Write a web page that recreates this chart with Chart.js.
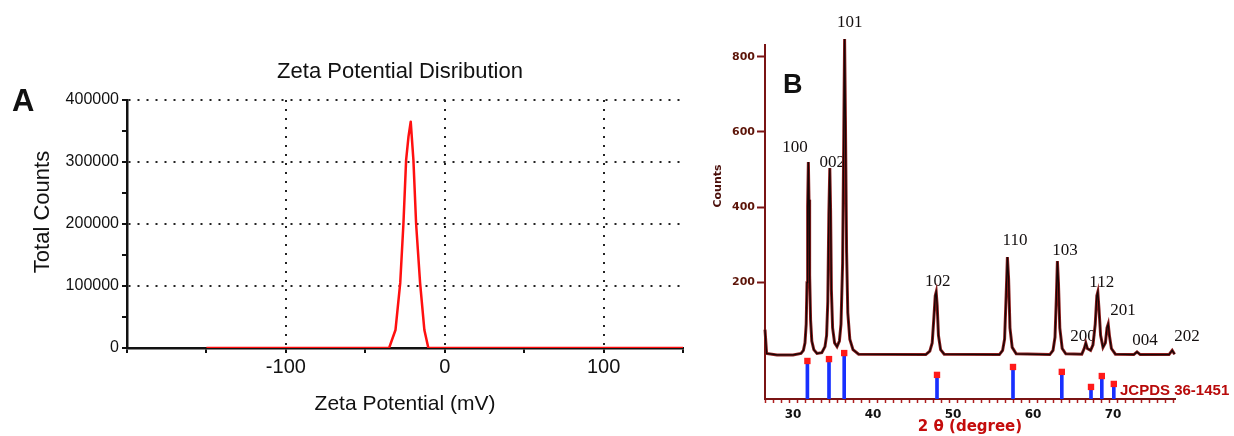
<!DOCTYPE html>
<html>
<head>
<meta charset="utf-8">
<script src="https://cdn.jsdelivr.net/npm/chart.js@4.4.1/dist/chart.umd.min.js"></script>
<style>
	html, body { margin: 0; padding: 0; background: #fff; }
	#wrap { position: relative; width: 1234px; height: 436px; overflow: hidden; }
	#zetaChart { position: absolute; left: 0; top: 0; }
	#xrdChart { position: absolute; left: 690px; top: 0; }
</style>
</head>
<body>
<div id="wrap">
	<canvas id="zetaChart" width="690" height="436"></canvas>
	<canvas id="xrdChart" width="544" height="436"></canvas>
</div>
<script>
// panel A - zeta potential distribution
const zetaPotential = [-150, -35, -31, -28, -26, -24.3, -22.8, -21.4, -19.7, -18, -15.5, -12.8, -10.3, 150];
const zetaCounts = [0, 0, 29000, 105000, 200000, 303000, 341000, 365000, 303000, 200000, 105000, 29000, 0, 0];
const zetaTickLabels = [-100, 0, 100];

// panel B - XRD pattern
const xrdAngle = [26.5, 26.7, 28, 30, 31, 31.3, 31.5, 31.65, 31.75, 31.83, 31.92, 32, 32.08, 32.2, 32.35, 32.6, 33,
	33.6, 34, 34.2, 34.35, 34.48, 34.6, 34.7, 34.8, 34.95, 35.2, 35.5, 35.8, 36, 36.2, 36.35, 36.45, 36.55, 36.7, 36.85, 37.1, 37.5, 38.2,
	46.6, 47.1, 47.4, 47.62, 47.78, 47.9, 48.02, 48.18, 48.45, 48.9,
	55.8, 56.2, 56.45, 56.65, 56.8, 56.95, 57.12, 57.4, 57.9,
	62.1, 62.5, 62.75, 62.92, 63.05, 63.18, 63.35, 63.65, 64.1,
	66.1, 66.4, 66.6, 66.8, 67.2, 67.5, 67.78, 67.98, 68.1, 68.25, 68.45,
	68.75, 69.05, 69.25, 69.4, 69.55, 69.8, 70.3,
	72.6, 73, 73.4, 77, 77.4, 77.7];
const xrdCounts = [75, 12, 8, 8, 12, 20, 40, 90, 200, 400, 520, 420, 220, 100, 45, 22, 12,
	14, 30, 60, 150, 380, 504, 390, 180, 80, 40, 30, 45, 90, 250, 600, 847, 640, 280, 120, 50, 22, 10,
	9, 18, 40, 110, 165, 175, 140, 60, 22, 10,
	9, 20, 50, 170, 268, 210, 80, 28, 11,
	9, 20, 55, 160, 257, 200, 80, 25, 11,
	10, 25, 40, 25, 20, 35, 90, 165, 175, 130, 60,
	28, 40, 80, 90, 60, 25, 10,
	9, 16, 9, 9, 20, 10];

const peakLabels = ['100', '002', '101', '102', '110', '103', '200', '112', '201', '004', '202'];
const peakLabelAngle = [30.25, 34.9, 37.1, 48.1, 57.75, 64.0, 66.25, 68.6, 71.25, 74.0, 79.25];
const peakLabelCounts = [560, 520, 890, 202, 313, 284, 56, 199, 127, 45, 56];

// JCPDS 36-1451 reference lines
const jcpdsAngle = [31.8, 34.5, 36.4, 48.0, 57.5, 63.6, 67.25, 68.6, 70.1];
const jcpdsTop = [-8, -3, 13, -45, -24, -37, -77, -48, -69];
const xrdTicks = [200, 400, 600, 800];
const xrdAxisMin = -109;
const xrdAxisMax = 831;

const panelText = {
	id: 'panelText',
	afterDraw(chart, args, opts) {
		const ctx = chart.ctx;
		(opts.items || []).forEach((item) => {
			ctx.save();
			ctx.font = item.font;
			ctx.fillStyle = item.color || '#111';
			ctx.textAlign = item.align || 'left';
			ctx.textBaseline = 'alphabetic';
			ctx.translate(item.x, item.y);
			if (item.rotate) {
				ctx.rotate(item.rotate);
			}
			ctx.fillText(item.text, 0, 0);
			ctx.restore();
		});
	}
};

const peakLabelPlugin = {
	id: 'peakLabels',
	beforeDatasetsDraw(chart) {
		const { ctx, scales: { x, y } } = chart;
		ctx.save();
		ctx.font = '17px "Liberation Serif", serif';
		ctx.fillStyle = '#151010';
		ctx.textAlign = 'center';
		ctx.textBaseline = 'middle';
		peakLabels.forEach((label, i) => {
			ctx.fillText(label, x.getPixelForValue(peakLabelAngle[i]), y.getPixelForValue(peakLabelCounts[i]));
		});
		ctx.restore();
	}
};

const sansA = '"Liberation Sans", Arial, sans-serif';

new Chart(document.getElementById('zetaChart'), {
	type: 'line',
	data: {
		datasets: [{
			data: zetaPotential.map((x, i) => ({ x, y: zetaCounts[i] })),
			borderColor: '#ff1010',
			borderWidth: 2.5,
			pointRadius: 0,
			tension: 0,
			borderJoinStyle: 'round'
		}]
	},
	options: {
		responsive: false,
		animation: false,
		layout: { padding: { left: 0, right: 7, top: 100, bottom: 0 } },
		plugins: {
			legend: { display: false },
			tooltip: { enabled: false },
			panelText: {
				items: [
					{ text: 'A', x: 12, y: 111, font: 'bold 31px ' + sansA, color: '#111' },
					{ text: 'Zeta Potential Disribution', x: 400, y: 78, font: '22px ' + sansA, align: 'center', color: '#111' },
					{ text: 'Total Counts', x: 49, y: 212, font: '22px ' + sansA, align: 'center', rotate: -Math.PI / 2, color: '#111' }
				]
			}
		},
		scales: {
			x: {
				type: 'linear',
				min: -200,
				max: 150,
				afterFit: (scale) => { scale.height = 88; },
				ticks: {
					stepSize: 50,
					autoSkip: false,
					maxRotation: 0,
					padding: 2,
					color: '#111',
					font: { size: 20, family: sansA },
					callback: (value) => zetaTickLabels.includes(value) ? String(value) : ''
				},
				grid: {
					color: (ctx) => ctx.tick && zetaTickLabels.includes(ctx.tick.value) ? '#222' : 'transparent',
					lineWidth: 2,
					tickColor: '#111',
					tickLength: 5,
					tickWidth: 2
				},
				border: { color: '#111', width: 2.5, dash: [2, 7] },
				title: {
					display: true,
					text: 'Zeta Potential (mV)',
					color: '#111',
					font: { size: 21, family: sansA },
					padding: { top: 0, bottom: 19 }
				}
			},
			y: {
				min: 0,
				max: 400000,
				afterFit: (scale) => { scale.width = 127; },
				ticks: {
					stepSize: 50000,
					padding: 3,
					color: '#111',
					font: { size: 16, family: sansA },
					callback: (value) => value % 100000 === 0 ? String(value) : ''
				},
				grid: {
					color: (ctx) => ctx.tick && ctx.tick.value > 0 && ctx.tick.value % 100000 === 0 ? '#222' : 'transparent',
					lineWidth: 2,
					tickColor: '#111',
					tickLength: 5,
					tickWidth: 2
				},
				border: { color: '#111', width: 2.5, dash: [2, 7] }
			}
		}
	},
	plugins: [panelText]
});

const axisRed = '#7a1414';
const xrdPoints = xrdAngle.map((x, i) => ({ x, y: xrdCounts[i] }));
const jcpdsPoints = jcpdsAngle.map((x, i) => ({ x, y: jcpdsTop[i] }));

// chart.js paints the last dataset first, so the black trace sits on top of the red one
new Chart(document.getElementById('xrdChart'), {
	type: 'line',
	data: {
		datasets: [
			{
				data: xrdPoints,
				borderColor: '#140606',
				borderWidth: 1.3,
				pointRadius: 0,
				tension: 0,
				clip: false
			},
			{
				data: xrdPoints,
				borderColor: '#8b1c1c',
				borderWidth: 3,
				pointRadius: 0,
				tension: 0,
				clip: false
			},
			{
				data: jcpdsPoints,
				showLine: false,
				pointStyle: 'rect',
				pointRadius: 4.5,
				pointBorderWidth: 0,
				pointBackgroundColor: '#ff1a1a'
			},
			{
				type: 'bar',
				data: jcpdsPoints,
				base: xrdAxisMin,
				barThickness: 3,
				backgroundColor: '#1830ff',
				grouped: false
			}
		]
	},
	options: {
		responsive: false,
		animation: false,
		layout: { padding: { left: 0, right: 59, top: 45, bottom: 0 } },
		plugins: {
			legend: { display: false },
			tooltip: { enabled: false },
			panelText: {
				items: [
					{ text: 'B', x: 93, y: 93, font: 'bold 27px ' + sansA, color: '#111' },
					{ text: 'Counts', x: 31, y: 186, font: 'bold 11px "DejaVu Sans", sans-serif', align: 'center', rotate: -Math.PI / 2, color: '#4a0e0a' },
					{ text: 'JCPDS 36-1451', x: 430, y: 395, font: 'bold 15px ' + sansA, color: '#b80a0a' }
				]
			}
		},
		scales: {
			x: {
				type: 'linear',
				min: 26.5,
				max: 77.75,
				offset: false,
				afterFit: (scale) => { scale.height = 37; },
				afterBuildTicks: (scale) => {
					const ticks = [];
					for (let v = 27; v <= 77; v++) {
						ticks.push({ value: v });
					}
					scale.ticks = ticks;
				},
				ticks: {
					autoSkip: false,
					maxRotation: 0,
					padding: 5,
					color: '#111',
					font: { size: 12, weight: 'bold', family: '"DejaVu Sans", sans-serif' },
					callback: (value) => value % 10 === 0 ? String(value) : ''
				},
				grid: {
					drawOnChartArea: false,
					tickColor: '#b02020',
					tickLength: 4,
					tickWidth: 1.5
				},
				border: { color: axisRed, width: 2 },
				title: {
					display: true,
					text: '2 θ (degree)',
					color: '#c40c0c',
					font: { size: 15, weight: 'bold', family: '"DejaVu Sans", sans-serif' },
					padding: { top: 0, bottom: 0 }
				}
			},
			y: {
				min: xrdAxisMin,
				max: xrdAxisMax,
				afterFit: (scale) => { scale.width = 75; },
				afterBuildTicks: (scale) => {
					scale.ticks = xrdTicks.map((value) => ({ value }));
				},
				ticks: {
					padding: 2,
					color: '#5c1408',
					font: { size: 11, weight: 'bold', family: '"DejaVu Sans", sans-serif' }
				},
				grid: {
					drawOnChartArea: false,
					tickColor: axisRed,
					tickLength: 8,
					tickWidth: 2
				},
				border: { color: axisRed, width: 2 }
			}
		}
	},
	plugins: [panelText, peakLabelPlugin]
});
</script>
</body>
</html>
